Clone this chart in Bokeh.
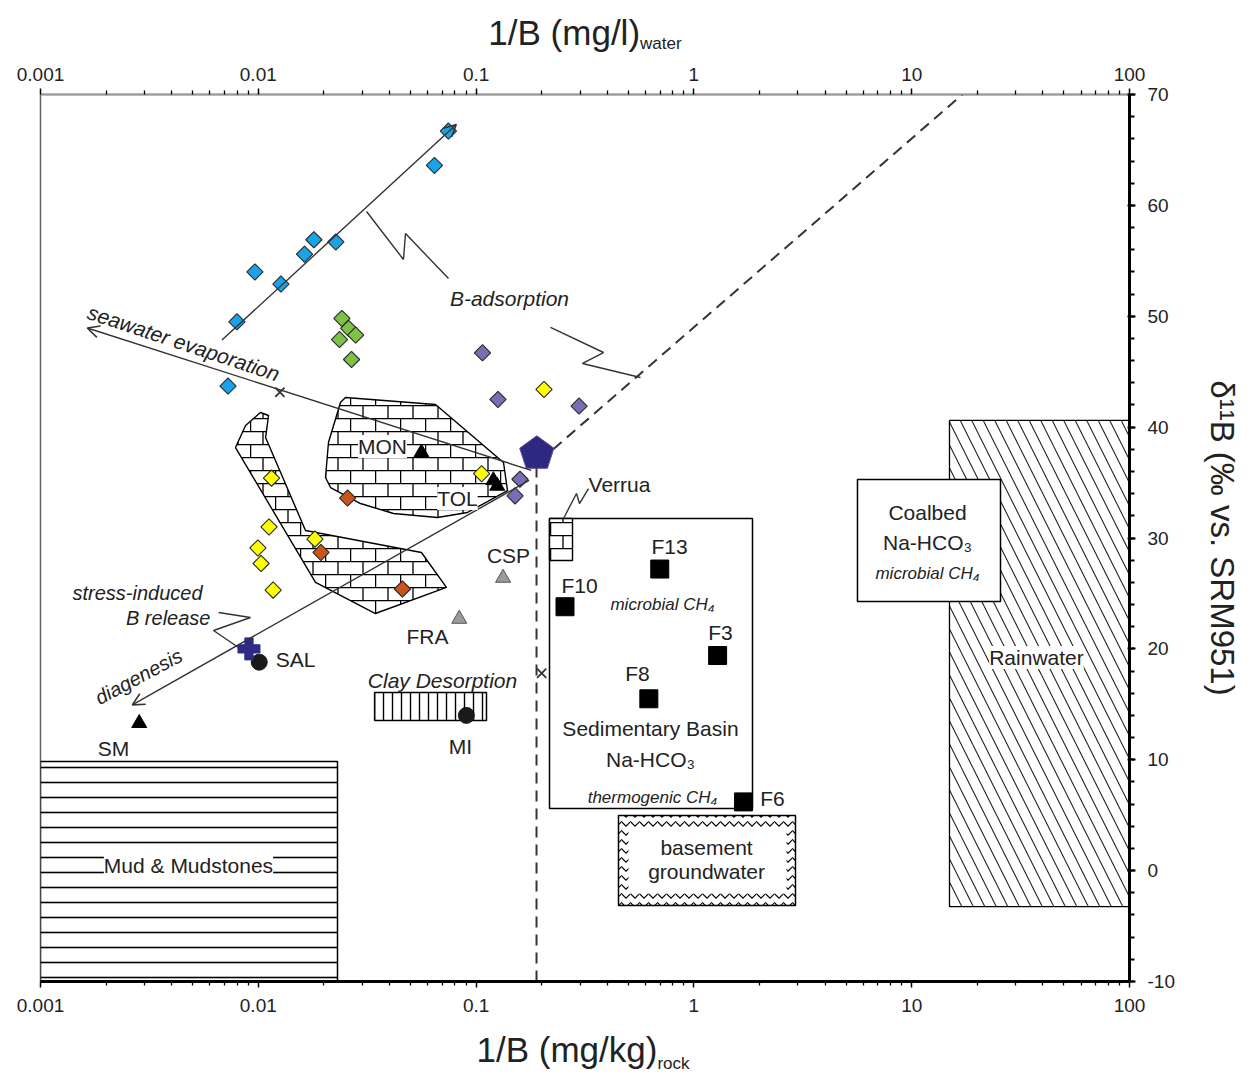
from urllib.parse import quote
import numpy as np
from bokeh.plotting import figure
from bokeh.layouts import column
from bokeh.models import (Range1d, LogAxis, FixedTicker, CustomJSTickFormatter, Label,
                          Arrow, OpenHead, ImageURLTexture, Div)
from bokeh.embed import file_html
from bokeh.resources import INLINE

FONT = "Liberation Sans"
TXT = "#222222"
EDGE = "#333333"

# ---------------- data ----------------
x_major = [0.001, 0.01, 0.1, 1, 10, 100]
x_minor = [k * 10.0 ** e for e in range(-3, 2) for k in range(2, 10)]
y_major = list(range(-10, 71, 10))
y_minor = list(range(-10, 71, 2))

blue_x = [0.0746, 0.0644, 0.0180, 0.0163, 0.0227, 0.00965, 0.0127, 0.00798, 0.00726]
blue_y = [66.7, 63.6, 56.9, 55.6, 56.7, 54.0, 52.9, 49.5, 43.7]
green_x = [0.0242, 0.0260, 0.0280, 0.0236, 0.0268]
green_y = [49.8, 48.9, 48.3, 47.9, 46.1]
purple_x = [0.107, 0.126, 0.297, 0.159, 0.151]
purple_y = [46.7, 42.5, 41.9, 35.3, 33.8]
yellow_x = [0.205, 0.106, 0.0115, 0.0112, 0.0182, 0.00996, 0.0103, 0.0117]
yellow_y = [43.4, 35.8, 35.4, 31.0, 29.9, 29.1, 27.7, 25.3]
orange_x = [0.0257, 0.0194, 0.0459]
orange_y = [33.6, 28.7, 25.4]

tri_black_x = [0.0561, 0.120, 0.125, 0.00284]      # MON, TOL, TOL, SM
tri_black_y = [37.7, 35.2, 34.7, 13.3]
tri_gray_x = [0.133, 0.0837]                         # CSP, FRA
tri_gray_y = [26.4, 22.7]
circ_x = [0.0101, 0.0902]                            # SAL, MI
circ_y = [18.8, 14.0]
plus_x = [0.00906]
plus_y = [20.0]
penta_x = [0.19]
penta_y = [37.6]
sq_x = [0.697, 0.256, 1.285, 0.621, 1.69]            # F13, F10, F3, F8, F6
sq_y = [27.2, 23.8, 19.4, 15.5, 6.2]

xmark_x = [0.01256, 0.20]
xmark_y = [43.15, 17.8]

dash_x = [0.1894, 0.1894, 17.1]
dash_y = [-10, 36.7, 70]

arrow_blue = (0.00681, 47.85, 0.0811, 67.29)
arrow_sea = (0.179, 36.1, 0.00164, 48.94)
arrow_diag = (0.1752, 35.2, 0.00264, 14.95)

zz_bads1_x = [0.0314, 0.0464, 0.0474, 0.0747]
zz_bads1_y = [59.45, 55.12, 57.46, 53.40]
zz_bads2_x = [0.2196, 0.3846, 0.308, 0.5685]
zz_bads2_y = [48.99, 46.73, 45.74, 44.48]
zz_stress_x = [0.00657, 0.00921, 0.00623, 0.00811]
zz_stress_y = [23.28, 22.83, 21.66, 20.12]
zz_verrua_x = [0.2519, 0.2891, 0.2984, 0.3282]
zz_verrua_y = [31.76, 34.01, 33.11, 34.46]

mon_x = [0.02513, 0.0651, 0.1336, 0.1394, 0.0913, 0.0665, 0.04177, 0.02945, 0.02146, 0.02035, 0.021, 0.02384]
mon_y = [42.67, 42.04, 36.81, 34.28, 32.30, 31.85, 32.21, 33.11, 34.55, 35.46, 38.61, 42.22]
boom_x = [0.01023, 0.01114, 0.0108, 0.01647, 0.0561, 0.0731, 0.0345, 0.01831, 0.00786, 0.00874]
boom_y = [41.32, 41.05, 39.06, 30.68, 28.69, 25.54, 23.19, 25.99, 38.16, 40.15]
verrua_x = [0.2173, 0.2771, 0.2771, 0.2173]
verrua_y = [27.97, 27.97, 31.76, 31.76]

# fields: left, right, bottom, top
mud_box = (0.001, 0.0231, -10, 9.84)
clay_box = (0.0342, 0.1116, 13.54, 16.07)
sed_box = (0.2173, 1.858, 5.60, 31.76)
base_box = (0.4506, 2.927, -3.15, 4.97)
base_inner = (0.5009, 2.662, -2.06, 3.71)
coal_box = (5.637, 25.57, 24.27, 35.28)
rain_box = (14.91, 100, -3.24, 40.6)

# annotation texts: text, x, y, size, style, angle, align, white background
notes = [
    ("B-adsorption", 0.1423, 51.6, 21, "italic", 0.0, "center", False),
    ("seawater evaporation", 0.00454, 47.6, 21, "italic", -0.32, "center", False),
    ("stress-induced", 0.00279, 25.0, 20, "italic", 0.0, "center", False),
    ("B release", 0.00603, 22.8, 20, "italic", 0.0, "right", False),
    ("diagenesis", 0.00282, 17.5, 20, "italic", 0.49, "center", False),
    ("Clay Desorption", 0.0701, 17.15, 21, "italic", 0.0, "center", False),
    ("microbial CH\u2084", 0.7175, 24.0, 17, "italic", 0.0, "center", False),
    ("Sedimentary Basin", 0.632, 12.82, 21, "normal", 0.0, "center", False),
    ("Na-HCO\u2083", 0.632, 10.02, 21, "normal", 0.0, "center", False),
    ("thermogenic CH\u2084", 0.6455, 6.6, 17, "italic", 0.0, "center", False),
    ("basement", 1.143, 2.09, 21, "normal", 0.0, "center", True),
    ("groundwater", 1.143, -0.08, 21, "normal", 0.0, "center", True),
    ("Coalbed", 11.82, 32.3, 21, "normal", 0.0, "center", False),
    ("Na-HCO\u2083", 11.82, 29.59, 21, "normal", 0.0, "center", False),
    ("microbial CH\u2084", 11.82, 26.8, 17, "italic", 0.0, "center", False),
    ("Rainwater", 37.4, 19.22, 21, "normal", 0.0, "center", True),
    ("Mud & Mudstones", 0.00478, 0.46, 21, "normal", 0.0, "center", True),
]
pt_names = ["MON", "TOL", "SM", "SAL", "MI", "FRA", "CSP", "Verrua", "F13", "F10", "F3", "F8", "F6"]
pt_lab_x = [0.03717, 0.0821, 0.002163, 0.01482, 0.0848, 0.0598, 0.1409, 0.4554, 0.7727, 0.2984, 1.325, 0.5508, 2.296]
pt_lab_y = [38.25, 33.56, 11.01, 19.04, 11.2, 21.12, 28.42, 34.83, 29.23, 25.72, 21.48, 17.78, 6.5]
pt_bg = [True, True, False, False, False, False, False, False, False, False, False, False, False]

x_title_top = ("1/B (mg/l)", "water")
x_title_bottom = ("1/B (mg/kg)", "rock")
y_title = "\u03b4\u00b9\u00b9B (\u2030 vs. SRM951)"

# ---------------- figure ----------------
W = 1244
p = figure(x_axis_type="log", x_range=Range1d(0.001, 100), y_range=Range1d(-10, 70),
           frame_width=1089, frame_height=887,
           min_border_left=40, min_border_top=40, min_border_right=115, min_border_bottom=42,
           y_axis_location="right", toolbar_location=None, output_backend="svg")
p.xgrid.visible = False
p.ygrid.visible = False
p.outline_line_color = "#666666"
p.outline_line_width = 1.5
p.background_fill_color = "white"
p.border_fill_color = "white"

fmt_code = "return String(tick);"

def style_x(ax, line_color, line_width):
    ax.ticker = FixedTicker(ticks=x_major, minor_ticks=x_minor)
    ax.formatter = CustomJSTickFormatter(code=fmt_code)
    ax.axis_line_color = line_color
    ax.axis_line_width = line_width
    ax.major_tick_line_color = "black"
    ax.minor_tick_line_color = "black"
    ax.major_tick_line_width = 1.5
    ax.minor_tick_line_width = 1.3
    ax.major_tick_in = 0
    ax.major_tick_out = 6
    ax.minor_tick_in = 0
    ax.minor_tick_out = 4
    ax.major_label_text_font = FONT
    ax.major_label_text_font_size = "19px"
    ax.major_label_text_color = TXT

xb = p.xaxis[0]
style_x(xb, "black", 3)
xb.major_label_standoff = 11
xt = LogAxis()
style_x(xt, "#9a9a9a", 2)
xt.major_label_standoff = 8
p.add_layout(xt, "above")

ya = p.yaxis[0]
ya.ticker = FixedTicker(ticks=y_major, minor_ticks=y_minor)
ya.formatter = CustomJSTickFormatter(code=fmt_code)
ya.axis_line_width = 3
ya.axis_line_color = "black"
ya.major_tick_line_width = 2
ya.minor_tick_line_width = 2
ya.major_tick_in = 2
ya.major_tick_out = 6
ya.minor_tick_in = 0
ya.minor_tick_out = 5
ya.major_label_standoff = 12
ya.major_label_text_font = FONT
ya.major_label_text_font_size = "19px"
ya.major_label_text_color = TXT
ya.axis_label = y_title
ya.axis_label_text_font = FONT
ya.axis_label_text_font_size = "33px"
ya.axis_label_text_font_style = "normal"
ya.axis_label_text_color = TXT
ya.axis_label_standoff = 26

# ---------------- fields ----------------
brick_svg = ("<svg xmlns='http://www.w3.org/2000/svg' width='25' height='26'>"
             "<rect width='25' height='26' fill='white'/>"
             "<path d='M0 0.6H25M0 13.6H25M0.6 0V13M13 13V26' stroke='black' stroke-width='1.3' fill='none'/>"
             "</svg>")
BRICK_URL = "data:image/svg+xml;utf8," + quote(brick_svg)

def qbox(b, **kw):
    p.quad(left=[b[0]], right=[b[1]], bottom=[b[2]], top=[b[3]], **kw)

qbox(rain_box, fill_color="white", line_color="black", line_width=1.3,
     hatch_pattern="left_diagonal_line", hatch_scale=23, hatch_weight=1.1, hatch_color="#222222")
qbox(coal_box, fill_color="white", line_color="black", line_width=1.5)
qbox(mud_box, fill_color="white", line_color="black", line_width=1.5,
     hatch_pattern="horizontal_line", hatch_scale=15, hatch_weight=1.6, hatch_color="black")
qbox(clay_box, fill_color="white", line_color="black", line_width=1.5,
     hatch_pattern="vertical_line", hatch_scale=9, hatch_weight=1.4, hatch_color="black")
qbox(sed_box, fill_color="white", line_color="black", line_width=1.5)
qbox(base_box, fill_color="white", line_color="black", line_width=1.5,
     hatch_pattern="horizontal_wave", hatch_scale=9, hatch_weight=1.2, hatch_color="black")
qbox(base_inner, fill_color="white", line_color=None)

for bx, by in ((mon_x, mon_y), (boom_x, boom_y), (verrua_x, verrua_y)):
    p.patch(bx, by, fill_color="white", line_color="black", line_width=1.4,
            hatch_pattern="brick", hatch_extra={"brick": ImageURLTexture(url=BRICK_URL)})

# ---------------- lines ----------------
p.line(dash_x, dash_y, line_color=EDGE, line_width=2, line_dash="11 7")
for zx, zy in ((zz_bads1_x, zz_bads1_y), (zz_bads2_x, zz_bads2_y),
               (zz_stress_x, zz_stress_y), (zz_verrua_x, zz_verrua_y)):
    p.line(zx, zy, line_color=EDGE, line_width=1.4)

for a in (arrow_blue, arrow_sea, arrow_diag):
    p.add_layout(Arrow(x_start=a[0], y_start=a[1], x_end=a[2], y_end=a[3],
                       line_color=EDGE, line_width=1.4,
                       end=OpenHead(size=12, line_color=EDGE, line_width=1.6)))

p.scatter(xmark_x, xmark_y, marker="x", size=13, line_color=EDGE, line_width=1.8)

# ---------------- samples ----------------
def diamonds(xs, ys, color):
    p.scatter(xs, ys, marker="square", angle=np.pi / 4, size=11.5,
              fill_color=color, line_color="#2a2a2a", line_width=1.1)

diamonds(blue_x, blue_y, "#1aa3e6")
diamonds(green_x, green_y, "#7cc245")
diamonds(purple_x, purple_y, "#7a6db5")
diamonds(yellow_x, yellow_y, "#ffff00")
diamonds(orange_x, orange_y, "#c8561c")

p.scatter(tri_black_x, tri_black_y, marker="triangle", size=15, fill_color="black", line_color="black")
p.scatter(tri_gray_x, tri_gray_y, marker="triangle", size=15, fill_color="#9a9a9a", line_color="#555555")
p.scatter(circ_x, circ_y, marker="circle", size=16, fill_color="#1a1a1a", line_color="#1a1a1a")
p.scatter(plus_x, plus_y, marker="plus", size=22, fill_color="#2e2b86", line_color="#2e2b86")
p.ngon(x=penta_x, y=penta_y, radius=18, radius_units="screen", n=5,
       fill_color="#2b2a80", line_color="#6b4a9a", line_width=1)
p.scatter(sq_x, sq_y, marker="square", size=18, fill_color="black", line_color="black")

# ---------------- texts ----------------
for t, x, y, s, st, ang, al, bg in notes:
    p.add_layout(Label(x=x, y=y, text=t, text_font=FONT, text_font_size=f"{s}px",
                       text_font_style=st, angle=ang, text_align=al, text_baseline="middle",
                       text_color=TXT, background_fill_color="white" if bg else None))

for t, x, y, bg in zip(pt_names, pt_lab_x, pt_lab_y, pt_bg):
    p.add_layout(Label(x=x, y=y, text=t, text_font=FONT, text_font_size="21px",
                       text_align="center", text_baseline="middle", text_color=TXT,
                       background_fill_color="white" if bg else None))

# ---------------- x-axis titles with subscripts ----------------
def title_div(main, sub, height, top, center, sub_shift):
    html = ("<div style=\"position:relative;width:%dpx;height:%dpx;\">"
            "<div style=\"position:absolute;left:0;top:%dpx;width:%dpx;text-align:center;"
            "font-family:'Liberation Sans',Arial,sans-serif;font-size:35px;line-height:1;"
            "color:#222222;white-space:nowrap;\">%s<span style=\"font-size:17px;"
            "vertical-align:-%dpx;\">%s</span></div></div>") % (W, height, top, 2 * center, main, sub_shift, sub)
    return Div(text=html, width=W, height=height, margin=0)

top_div = title_div(x_title_top[0], x_title_top[1], 54, 15, 585, 4)
bottom_div = title_div(x_title_bottom[0], x_title_bottom[1], 50, 9, 583, 7)

layout = column(top_div, p, bottom_div, spacing=0)
open("out.html", "w").write(file_html(layout, INLINE))
